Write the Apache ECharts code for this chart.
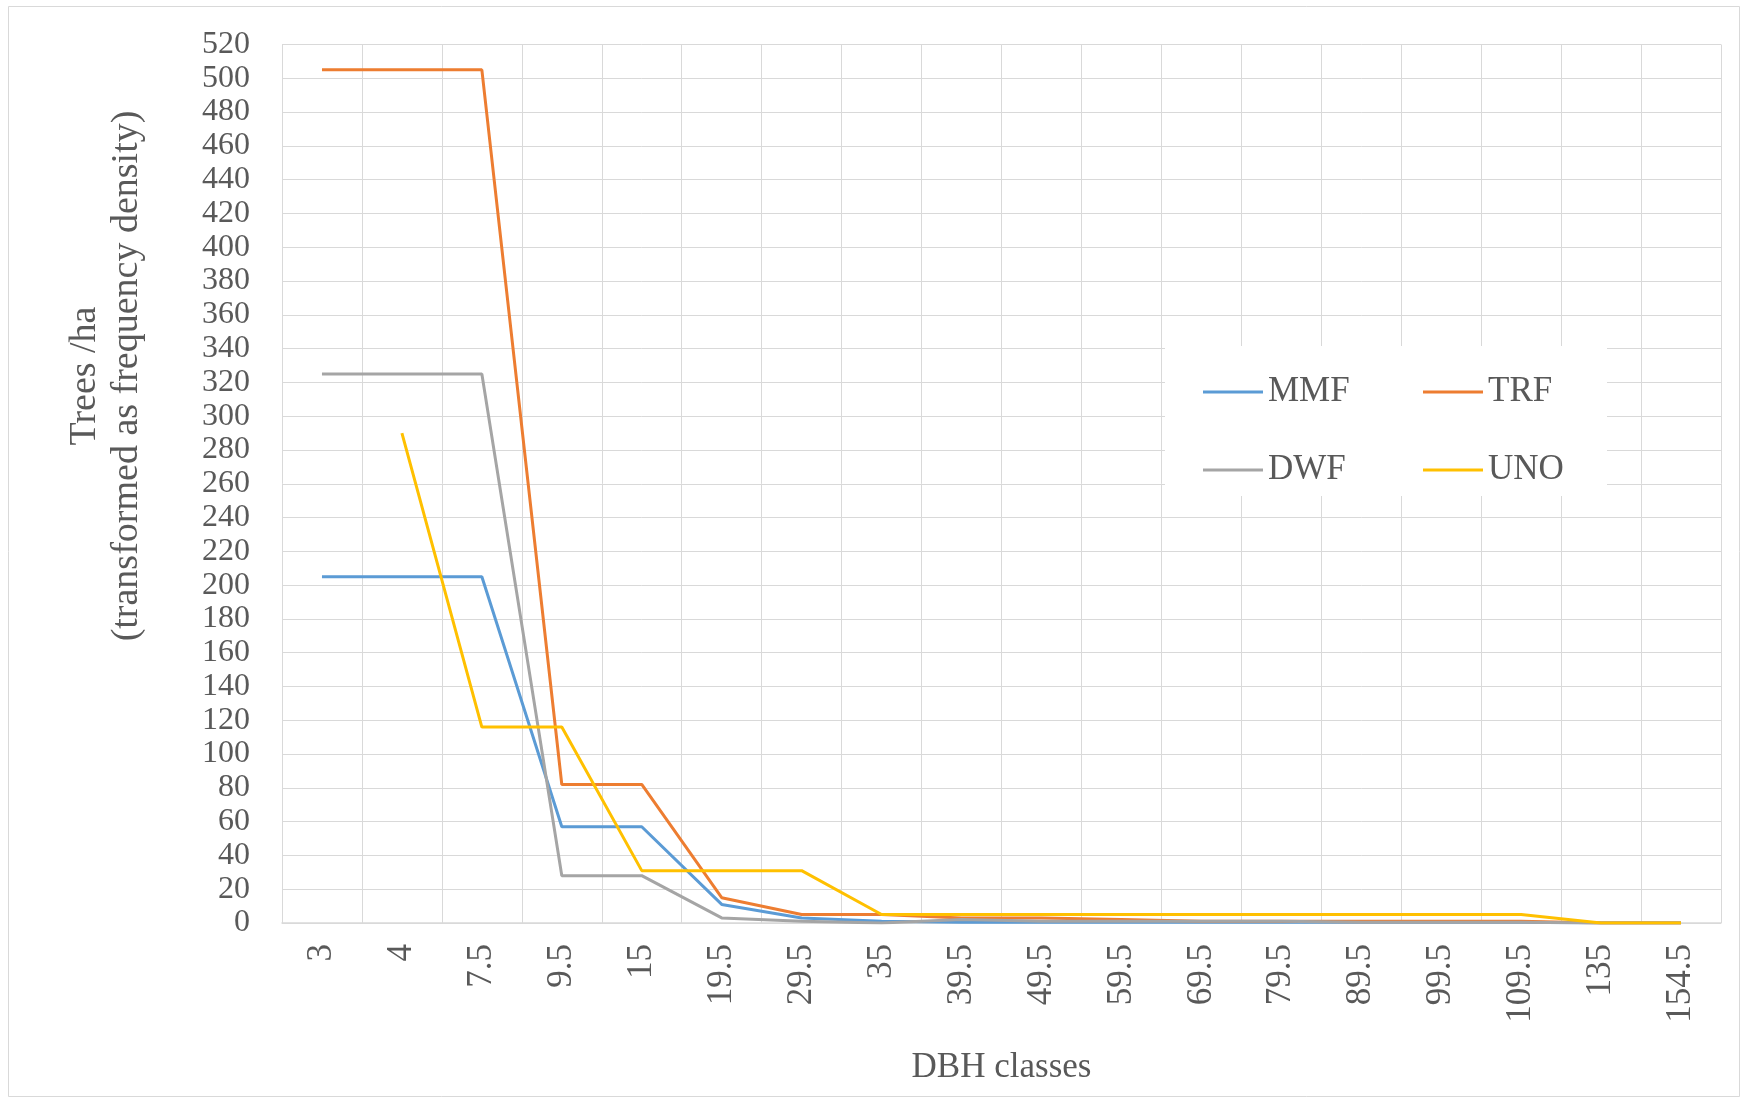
<!DOCTYPE html>
<html>
<head>
<meta charset="utf-8">
<script src="https://cdn.jsdelivr.net/npm/echarts@6/dist/echarts.min.js"></script>
<style>
html,body{margin:0;padding:0;background:#fff;}
#chart{width:1745px;height:1100px;}
</style>
</head>
<body>
<div id="chart"></div>
<script>
var categories = ['3','4','7.5','9.5','15','19.5','29.5','35','39.5','49.5','59.5','69.5','79.5','89.5','99.5','109.5','135','154.5'];
var mmf = [205,205,205,57,57,11,3,1,0.5,0.5,0.5,0.5,0.5,0.5,0.5,0.5,0,0];
var trf = [505,505,505,82,82,15,5,5,3,3,2,1,1,1,1,1,0,0];
var dwf = [325,325,325,28,28,3,1,0,2,1,1,1,1,0.5,0.5,0.5,0,0];
var uno = [null,290,116,116,31,31,31,5,5,5,5,5,5,5,5,5,0,0];
var seriesNames = ['MMF','TRF','DWF','UNO'];
var seriesColors = ['#5B9BD5','#ED7D31','#A5A5A5','#FFC000'];
var yTitleLines = ['Trees /ha','(transformed as frequency density)'];
var xTitle = 'DBH classes';

var FONT = '"Liberation Serif", "Times New Roman", serif';
var TXT = '#595959';
var GRIDC = '#D9D9D9';

var chart = echarts.init(document.getElementById('chart'), null, {renderer:'canvas'});
var dataSets = [mmf, trf, dwf, uno];
var series = seriesNames.map(function(n,i){
  return {
    name:n, type:'line', data:dataSets[i], symbol:'none', connectNulls:false,
    lineStyle:{color:seriesColors[i], width:3},
    itemStyle:{color:seriesColors[i]},
    z: 3 + i
  };
});

var legendCommon = {
  orient:'vertical', icon:'rect', itemWidth:60, itemHeight:3, itemGap:38,
  textStyle:{fontFamily:FONT, fontSize:35, color:TXT, lineHeight:40},
  selectedMode:false, z:10
};

chart.setOption({
  animation:false,
  backgroundColor:'#fff',
  grid:{left:282, right:24, top:44.5, bottom:177, containLabel:false},
  xAxis:{
    type:'category', data:categories, boundaryGap:true,
    axisLine:{show:true, lineStyle:{color:GRIDC, width:1.5}},
    axisTick:{show:false},
    splitLine:{show:true, lineStyle:{color:GRIDC, width:1}},
    axisLabel:{rotate:90, margin:21, fontFamily:FONT, fontSize:35, color:TXT, interval:0},
    name:xTitle, nameLocation:'middle', nameGap:127,
    nameTextStyle:{fontFamily:FONT, fontSize:35, color:TXT}
  },
  yAxis:{
    type:'value', min:0, max:520, interval:20,
    axisLine:{show:false}, axisTick:{show:false},
    splitLine:{show:true, lineStyle:{color:GRIDC, width:1}},
    axisLabel:{margin:32, fontFamily:FONT, fontSize:32, color:TXT}
  },
  legend:[
    Object.assign({}, legendCommon, {data:['MMF','DWF'], left:1198, top:367}),
    Object.assign({}, legendCommon, {data:['TRF','UNO'], left:1418, top:367})
  ],
  graphic:[
    {type:'rect', shape:{x:8.5, y:6.5, width:1731, height:1090}, style:{fill:'none', stroke:GRIDC, lineWidth:1}, z:0, silent:true},
    {type:'rect', shape:{x:1165, y:346, width:442, height:150}, style:{fill:'#fff'}, z:2, silent:true},
    {type:'text', x:106, y:376, rotation:Math.PI/2, z:5,
      style:{text:yTitleLines.join('\n'), fontFamily:FONT, fontSize:38, lineHeight:42, fill:TXT, textAlign:'center', textVerticalAlign:'middle'}}
  ],
  series:series
});
</script>
</body>
</html>
